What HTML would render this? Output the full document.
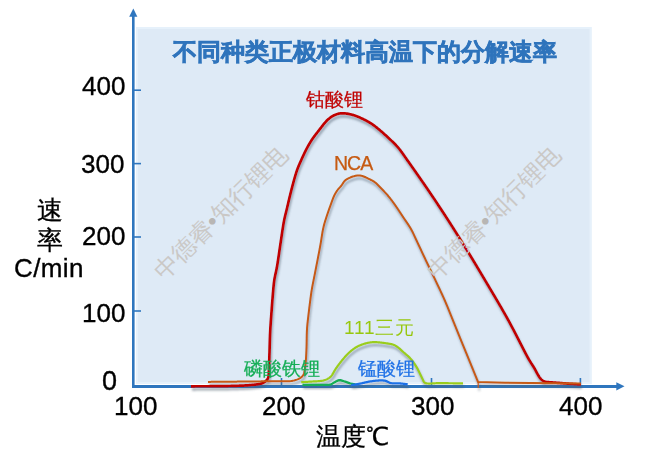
<!DOCTYPE html>
<html><head><meta charset="utf-8">
<style>
html,body{margin:0;padding:0;background:#fff;}
body{width:654px;height:466px;position:relative;overflow:hidden;font-family:"Liberation Sans",sans-serif;}
.t{position:absolute;white-space:nowrap;line-height:1;will-change:transform;}
.num{font-size:26px;color:#000;-webkit-text-stroke:0.35px #000;}
.wm{position:absolute;white-space:nowrap;line-height:1;font-size:24.2px;color:#cac8c6;transform-origin:50% 50%;transform:translate(-50%,-50%) rotate(-45deg);}
.wm b{font-weight:normal;color:#b8b6b4;}
</style></head><body>
<svg width="654" height="466" style="position:absolute;left:0;top:0">
<defs>
<filter id="sh" x="-10%" y="-10%" width="120%" height="130%">
<feGaussianBlur in="SourceAlpha" stdDeviation="1.3"/>
<feOffset dx="1.2" dy="2.6" result="b"/>
<feFlood flood-color="#4a5a6a" flood-opacity="0.5"/>
<feComposite in2="b" operator="in"/>
<feMerge><feMergeNode/><feMergeNode in="SourceGraphic"/></feMerge>
</filter>
</defs>
<rect x="136" y="27" width="455.5" height="357" fill="#DEEAF6"/>
<rect x="137" y="28" width="453.5" height="355" fill="none" stroke="#E6F1FB" stroke-width="2"/>
<g stroke="#2F76BE" fill="none">
<line x1="133.3" y1="388" x2="133.3" y2="16" stroke-width="2.6"/>
<line x1="132" y1="386.4" x2="617" y2="386.4" stroke-width="3"/>
<g stroke-width="1.6">
<line x1="133" y1="90.2" x2="141" y2="90.2"/>
<line x1="133" y1="163.6" x2="141" y2="163.6"/>
<line x1="133" y1="237" x2="141" y2="237"/>
<line x1="133" y1="311" x2="141" y2="311"/>
<line x1="281.5" y1="386" x2="281.5" y2="378"/>
<line x1="431.5" y1="386" x2="431.5" y2="378"/>
<line x1="580.4" y1="386" x2="580.4" y2="378"/>
</g>
</g>
<polygon points="133.3,8.6 129.2,16.8 137.4,16.8" fill="#2F76BE"/>
<polygon points="624.5,386.3 616.3,382.2 616.3,390.4" fill="#2F76BE"/>
</svg>
<svg width="654" height="466" style="position:absolute;left:0;top:0">
<g fill="none" stroke-linejoin="round" stroke-linecap="butt" filter="url(#sh)">
<path stroke="#9ACD1E" stroke-width="2.2" d="M301.20,382.20 L302.88,382.09 L303.26,382.07 L303.72,382.04 L304.24,382.01 L304.83,381.97 L305.47,381.93 L306.14,381.89 L306.82,381.85 L307.53,381.80 L308.23,381.76 L308.93,381.71 L309.64,381.67 L310.34,381.62 L311.04,381.57 L311.75,381.53 L312.45,381.49 L313.15,381.45 L313.86,381.41 L314.56,381.38 L315.26,381.35 L315.97,381.32 L316.67,381.29 L317.37,381.25 L318.08,381.21 L318.78,381.16 L319.48,381.10 L320.18,381.03 L320.88,380.94 L321.57,380.84 L322.26,380.71 L322.95,380.56 L323.63,380.39 L324.30,380.20 L324.97,379.98 L325.63,379.75 L326.28,379.49 L326.92,379.20 L327.55,378.89 L328.16,378.56 L328.75,378.19 L329.33,377.80 L329.87,377.37 L330.40,376.92 L330.89,376.43 L331.35,375.91 L331.78,375.37 L332.19,374.80 L332.57,374.21 L332.93,373.61 L333.28,373.00 L333.62,372.39 L333.96,371.77 L334.30,371.16 L334.65,370.55 L335.01,369.94 L335.38,369.34 L335.76,368.75 L336.15,368.17 L336.55,367.59 L336.96,367.01 L337.37,366.44 L337.78,365.87 L338.20,365.30 L338.62,364.74 L339.04,364.17 L339.47,363.62 L339.90,363.06 L340.33,362.50 L340.77,361.95 L341.21,361.40 L341.65,360.85 L342.10,360.31 L342.55,359.76 L343.00,359.22 L343.45,358.68 L343.90,358.14 L344.36,357.61 L344.82,357.07 L345.29,356.55 L345.76,356.02 L346.23,355.50 L346.71,354.98 L347.20,354.48 L347.69,353.97 L348.19,353.48 L348.70,352.99 L349.21,352.51 L349.74,352.04 L350.27,351.58 L350.81,351.13 L351.35,350.68 L351.90,350.24 L352.46,349.82 L353.03,349.39 L353.59,348.98 L354.17,348.57 L354.75,348.18 L355.34,347.79 L355.93,347.41 L356.53,347.05 L357.14,346.70 L357.76,346.36 L358.38,346.03 L359.01,345.72 L359.65,345.43 L360.30,345.16 L360.95,344.90 L361.61,344.65 L362.27,344.42 L362.94,344.20 L363.61,343.98 L364.29,343.78 L364.96,343.59 L365.64,343.40 L366.32,343.22 L367.01,343.05 L367.69,342.89 L368.38,342.74 L369.07,342.61 L369.76,342.49 L370.46,342.39 L371.16,342.30 L371.85,342.23 L372.56,342.18 L373.26,342.14 L373.96,342.12 L374.66,342.12 L375.37,342.13 L376.07,342.15 L376.77,342.19 L377.47,342.23 L378.18,342.28 L378.88,342.34 L379.58,342.41 L380.28,342.49 L380.98,342.57 L381.68,342.65 L382.38,342.74 L383.08,342.83 L383.77,342.93 L384.47,343.03 L385.17,343.13 L385.86,343.23 L386.56,343.33 L387.26,343.44 L387.95,343.55 L388.65,343.65 L389.34,343.77 L390.04,343.89 L390.73,344.03 L391.41,344.19 L392.09,344.36 L392.76,344.56 L393.42,344.78 L394.07,345.04 L394.71,345.32 L395.34,345.64 L395.95,345.98 L396.54,346.34 L397.12,346.74 L397.69,347.15 L398.25,347.57 L398.79,348.02 L399.33,348.47 L399.86,348.93 L400.38,349.40 L400.91,349.88 L401.42,350.35 L401.94,350.83 L402.46,351.30 L402.98,351.78 L403.51,352.25 L404.04,352.71 L404.57,353.18 L405.10,353.63 L405.64,354.09 L406.18,354.55 L406.71,355.00 L407.25,355.46 L407.77,355.93 L408.30,356.40 L408.81,356.88 L409.31,357.37 L409.81,357.87 L410.29,358.38 L410.76,358.90 L411.22,359.44 L411.67,359.97 L412.12,360.52 L412.55,361.08 L412.98,361.64 L413.39,362.20 L413.80,362.78 L414.21,363.35 L414.60,363.94 L414.99,364.52 L415.37,365.11 L415.75,365.71 L416.12,366.31 L416.48,366.91 L416.83,367.52 L417.18,368.14 L417.52,368.75 L417.85,369.38 L418.17,370.00 L418.49,370.63 L418.80,371.26 L419.11,371.89 L419.41,372.53 L419.72,373.16 L420.02,373.80 L420.32,374.44 L420.63,375.07 L420.93,375.71 L421.23,376.34 L421.54,376.98 L421.84,377.61 L422.16,378.25 L422.46,378.88 L422.76,379.52 L423.05,380.16 L423.33,380.80 L423.62,381.44 L423.97,382.05 L424.48,382.53 L425.06,382.92 L425.71,383.18 L426.40,383.34 L427.09,383.44 L427.79,383.50 L428.50,383.53 L429.20,383.54 L429.90,383.53 L430.61,383.52 L431.31,383.49 L432.02,383.45 L432.72,383.41 L433.42,383.38 L434.13,383.34 L434.83,383.30 L435.53,383.26 L436.24,383.22 L436.94,383.19 L437.64,383.16 L438.35,383.14 L439.05,383.13 L439.75,383.12 L440.46,383.12 L441.16,383.13 L441.87,383.13 L442.57,383.14 L443.28,383.15 L443.98,383.16 L444.69,383.17 L445.39,383.18 L446.09,383.19 L446.80,383.20 L447.50,383.21 L448.21,383.22 L448.91,383.23 L449.62,383.23 L450.32,383.24 L451.02,383.25 L451.73,383.26 L452.43,383.27 L453.14,383.28 L453.84,383.29 L454.55,383.30 L455.25,383.30 L455.96,383.31 L456.66,383.32 L457.36,383.33 L458.05,383.34 L458.72,383.35 L459.36,383.35 L459.95,383.36 L460.48,383.37 L460.93,383.37 L461.31,383.38 L463.00,383.40"/>
<path stroke="#14AD55" stroke-width="2.3" d="M302.50,384.80 L303.28,384.80 L303.93,384.80 L304.64,384.80 L305.35,384.80 L306.06,384.80 L306.77,384.81 L307.48,384.81 L308.19,384.81 L308.90,384.81 L309.62,384.81 L310.33,384.82 L311.04,384.82 L311.75,384.82 L312.46,384.82 L313.17,384.82 L313.89,384.82 L314.60,384.82 L315.31,384.82 L316.02,384.82 L316.73,384.82 L317.44,384.82 L318.15,384.81 L318.87,384.81 L319.58,384.81 L320.29,384.80 L321.00,384.81 L321.71,384.82 L322.42,384.84 L323.13,384.87 L323.85,384.89 L324.56,384.92 L325.27,384.94 L325.98,384.96 L326.69,384.96 L327.40,384.94 L328.11,384.91 L328.82,384.84 L329.52,384.73 L330.21,384.57 L330.88,384.35 L331.53,384.07 L332.16,383.75 L332.77,383.38 L333.37,383.00 L333.97,382.62 L334.58,382.25 L335.20,381.91 L335.83,381.57 L336.46,381.24 L337.09,380.92 L337.74,380.63 L338.40,380.40 L339.09,380.24 L339.79,380.19 L340.48,380.23 L341.18,380.37 L341.86,380.56 L342.53,380.79 L343.20,381.02 L343.88,381.25 L344.55,381.48 L345.22,381.71 L345.90,381.94 L346.57,382.18 L347.24,382.42 L347.91,382.66 L348.58,382.89 L349.26,383.11 L349.94,383.32 L350.62,383.51 L351.31,383.69 L352.00,383.84 L352.70,383.98 L353.40,384.11 L354.09,384.24 L354.73,384.36 L355.50,384.50"/>
<path stroke="#1E70E6" stroke-width="2.3" d="M351.30,385.10 L352.07,384.97 L352.71,384.86 L353.40,384.75 L354.10,384.63 L354.79,384.51 L355.49,384.40 L356.19,384.28 L356.89,384.16 L357.59,384.04 L358.29,383.92 L358.99,383.80 L359.68,383.67 L360.38,383.54 L361.07,383.40 L361.77,383.26 L362.46,383.11 L363.15,382.96 L363.85,382.80 L364.54,382.65 L365.23,382.49 L365.92,382.33 L366.61,382.18 L367.30,382.03 L368.00,381.88 L368.69,381.74 L369.39,381.61 L370.09,381.49 L370.78,381.38 L371.49,381.27 L372.19,381.17 L372.89,381.07 L373.59,380.98 L374.29,380.89 L375.00,380.81 L375.70,380.73 L376.41,380.66 L377.11,380.59 L377.82,380.53 L378.53,380.49 L379.23,380.45 L379.94,380.42 L380.65,380.41 L381.36,380.41 L382.07,380.43 L382.77,380.46 L383.48,380.52 L384.18,380.61 L384.88,380.72 L385.57,380.88 L386.24,381.10 L386.90,381.35 L387.54,381.66 L388.17,381.98 L388.80,382.30 L389.44,382.59 L390.10,382.84 L390.78,383.04 L391.47,383.19 L392.17,383.29 L392.87,383.36 L393.58,383.40 L394.28,383.43 L394.99,383.44 L395.70,383.44 L396.41,383.44 L397.12,383.44 L397.83,383.43 L398.54,383.43 L399.24,383.44 L399.95,383.46 L400.66,383.50 L401.37,383.55 L402.07,383.61 L402.78,383.69 L403.48,383.77 L404.19,383.85 L404.89,383.94 L405.59,384.03 L406.28,384.12 L406.93,384.20 L407.70,384.30"/>
<path stroke="#C00000" stroke-width="2.7" d="M191.00,386.30 L192.68,386.29 L193.06,386.29 L193.51,386.28 L194.04,386.28 L194.62,386.28 L195.26,386.27 L195.92,386.27 L196.61,386.27 L197.31,386.27 L198.01,386.26 L198.71,386.26 L199.41,386.26 L200.11,386.25 L200.81,386.25 L201.52,386.25 L202.22,386.25 L202.92,386.25 L203.62,386.24 L204.32,386.24 L205.02,386.24 L205.72,386.24 L206.42,386.24 L207.12,386.23 L207.82,386.23 L208.53,386.23 L209.23,386.23 L209.93,386.22 L210.63,386.22 L211.33,386.22 L212.03,386.22 L212.73,386.21 L213.43,386.21 L214.13,386.21 L214.84,386.20 L215.54,386.20 L216.24,386.19 L216.94,386.19 L217.64,386.18 L218.34,386.18 L219.04,386.17 L219.74,386.17 L220.44,386.16 L221.14,386.15 L221.85,386.14 L222.55,386.13 L223.25,386.13 L223.95,386.12 L224.65,386.11 L225.35,386.09 L226.05,386.08 L226.75,386.07 L227.45,386.06 L228.15,386.04 L228.85,386.02 L229.56,386.01 L230.26,385.99 L230.96,385.97 L231.66,385.96 L232.36,385.94 L233.06,385.92 L233.76,385.90 L234.46,385.88 L235.16,385.86 L235.86,385.84 L236.56,385.82 L237.26,385.80 L237.96,385.77 L238.66,385.75 L239.37,385.72 L240.07,385.70 L240.77,385.67 L241.47,385.64 L242.17,385.61 L242.87,385.58 L243.57,385.54 L244.27,385.50 L244.97,385.46 L245.67,385.42 L246.37,385.38 L247.07,385.33 L247.77,385.28 L248.46,385.22 L249.16,385.17 L249.86,385.11 L250.56,385.05 L251.26,384.99 L251.96,384.93 L252.65,384.86 L253.35,384.80 L254.05,384.73 L254.75,384.66 L255.44,384.59 L256.14,384.51 L256.84,384.42 L257.53,384.32 L258.22,384.21 L258.91,384.09 L259.60,383.96 L260.28,383.80 L260.95,383.62 L261.62,383.41 L262.27,383.17 L262.92,382.89 L263.54,382.58 L264.15,382.23 L264.74,381.86 L265.31,381.44 L265.85,381.00 L266.37,380.53 L266.84,380.01 L267.29,379.48 L267.66,378.88 L267.97,378.25 L268.22,377.60 L268.41,376.93 L268.54,376.25 L268.63,375.55 L268.69,374.86 L268.74,374.16 L268.77,373.46 L268.81,372.76 L268.84,372.06 L268.87,371.36 L268.90,370.66 L268.93,369.96 L268.96,369.26 L268.99,368.56 L269.02,367.86 L269.05,367.16 L269.08,366.46 L269.10,365.76 L269.13,365.06 L269.15,364.35 L269.18,363.65 L269.20,362.95 L269.22,362.25 L269.24,361.55 L269.26,360.85 L269.28,360.15 L269.30,359.45 L269.32,358.75 L269.34,358.05 L269.36,357.35 L269.38,356.65 L269.40,355.95 L269.42,355.25 L269.44,354.54 L269.46,353.84 L269.49,353.14 L269.51,352.44 L269.53,351.74 L269.55,351.04 L269.57,350.34 L269.59,349.64 L269.61,348.94 L269.63,348.24 L269.65,347.54 L269.67,346.84 L269.69,346.14 L269.71,345.44 L269.73,344.73 L269.75,344.03 L269.77,343.33 L269.79,342.63 L269.81,341.93 L269.83,341.23 L269.86,340.53 L269.88,339.83 L269.90,339.13 L269.92,338.43 L269.95,337.73 L269.97,337.03 L270.00,336.33 L270.02,335.63 L270.05,334.93 L270.08,334.22 L270.11,333.52 L270.14,332.82 L270.18,332.12 L270.21,331.42 L270.25,330.72 L270.28,330.02 L270.32,329.32 L270.36,328.62 L270.40,327.92 L270.44,327.22 L270.49,326.52 L270.53,325.82 L270.58,325.13 L270.62,324.43 L270.67,323.73 L270.72,323.03 L270.76,322.33 L270.81,321.63 L270.86,320.93 L270.91,320.23 L270.96,319.53 L271.01,318.83 L271.06,318.13 L271.12,317.43 L271.17,316.73 L271.22,316.03 L271.27,315.34 L271.32,314.64 L271.37,313.94 L271.42,313.24 L271.47,312.54 L271.53,311.84 L271.58,311.14 L271.63,310.44 L271.68,309.74 L271.73,309.04 L271.78,308.34 L271.83,307.64 L271.88,306.95 L271.94,306.25 L271.99,305.55 L272.04,304.85 L272.09,304.15 L272.15,303.45 L272.20,302.75 L272.25,302.05 L272.31,301.35 L272.36,300.65 L272.42,299.96 L272.47,299.26 L272.53,298.56 L272.58,297.86 L272.64,297.16 L272.70,296.46 L272.76,295.76 L272.81,295.06 L272.87,294.37 L272.93,293.67 L272.99,292.97 L273.05,292.27 L273.11,291.57 L273.17,290.87 L273.23,290.17 L273.29,289.48 L273.35,288.78 L273.41,288.08 L273.47,287.38 L273.54,286.68 L273.60,285.98 L273.67,285.29 L273.74,284.59 L273.82,283.89 L273.90,283.20 L273.98,282.50 L274.07,281.81 L274.16,281.11 L274.27,280.42 L274.37,279.73 L274.49,279.03 L274.61,278.34 L274.74,277.65 L274.87,276.97 L275.01,276.28 L275.15,275.59 L275.30,274.91 L275.45,274.22 L275.60,273.54 L275.75,272.85 L275.90,272.17 L276.05,271.48 L276.19,270.80 L276.34,270.11 L276.48,269.43 L276.61,268.74 L276.74,268.05 L276.87,267.36 L277.00,266.67 L277.12,265.98 L277.24,265.29 L277.35,264.60 L277.47,263.91 L277.58,263.21 L277.69,262.52 L277.80,261.83 L277.90,261.14 L278.01,260.44 L278.12,259.75 L278.22,259.06 L278.32,258.36 L278.43,257.67 L278.53,256.98 L278.63,256.28 L278.73,255.59 L278.83,254.90 L278.94,254.20 L279.04,253.51 L279.14,252.81 L279.24,252.12 L279.34,251.43 L279.44,250.73 L279.54,250.04 L279.64,249.35 L279.74,248.65 L279.84,247.96 L279.94,247.26 L280.04,246.57 L280.14,245.88 L280.25,245.18 L280.35,244.49 L280.45,243.80 L280.56,243.10 L280.66,242.41 L280.77,241.72 L280.87,241.02 L280.98,240.33 L281.08,239.64 L281.19,238.94 L281.29,238.25 L281.39,237.56 L281.50,236.86 L281.60,236.17 L281.70,235.48 L281.81,234.78 L281.91,234.09 L282.01,233.40 L282.12,232.70 L282.22,232.01 L282.32,231.32 L282.43,230.62 L282.53,229.93 L282.64,229.24 L282.75,228.55 L282.85,227.85 L282.96,227.16 L283.07,226.47 L283.19,225.78 L283.30,225.08 L283.41,224.39 L283.53,223.70 L283.65,223.01 L283.78,222.32 L283.90,221.63 L284.03,220.94 L284.17,220.26 L284.31,219.57 L284.45,218.88 L284.60,218.20 L284.75,217.51 L284.91,216.83 L285.07,216.15 L285.23,215.47 L285.40,214.79 L285.57,214.11 L285.74,213.43 L285.91,212.75 L286.08,212.07 L286.25,211.39 L286.42,210.70 L286.59,210.02 L286.75,209.34 L286.91,208.66 L287.08,207.98 L287.24,207.30 L287.40,206.61 L287.56,205.93 L287.72,205.25 L287.88,204.57 L288.04,203.88 L288.19,203.20 L288.35,202.52 L288.51,201.84 L288.67,201.15 L288.83,200.47 L288.99,199.79 L289.16,199.11 L289.32,198.42 L289.48,197.74 L289.64,197.06 L289.81,196.38 L289.97,195.70 L290.14,195.02 L290.31,194.34 L290.47,193.65 L290.64,192.97 L290.82,192.29 L290.99,191.62 L291.16,190.94 L291.34,190.26 L291.51,189.58 L291.69,188.90 L291.87,188.22 L292.05,187.54 L292.22,186.87 L292.40,186.19 L292.58,185.51 L292.76,184.83 L292.94,184.16 L293.12,183.48 L293.30,182.80 L293.49,182.12 L293.67,181.45 L293.85,180.77 L294.04,180.10 L294.23,179.42 L294.42,178.75 L294.61,178.07 L294.80,177.40 L295.00,176.72 L295.19,176.05 L295.39,175.38 L295.59,174.71 L295.80,174.04 L296.01,173.37 L296.22,172.70 L296.44,172.03 L296.66,171.37 L296.88,170.70 L297.11,170.04 L297.35,169.38 L297.59,168.72 L297.84,168.07 L298.09,167.42 L298.35,166.76 L298.62,166.12 L298.89,165.47 L299.16,164.82 L299.44,164.18 L299.72,163.54 L300.00,162.90 L300.29,162.26 L300.57,161.62 L300.86,160.98 L301.15,160.34 L301.43,159.70 L301.72,159.06 L302.01,158.42 L302.30,157.78 L302.59,157.14 L302.88,156.50 L303.17,155.87 L303.46,155.23 L303.76,154.59 L304.06,153.96 L304.36,153.33 L304.67,152.70 L304.97,152.07 L305.29,151.44 L305.60,150.81 L305.92,150.19 L306.24,149.56 L306.56,148.94 L306.89,148.32 L307.22,147.70 L307.55,147.09 L307.88,146.47 L308.22,145.86 L308.56,145.24 L308.91,144.63 L309.26,144.03 L309.61,143.42 L309.97,142.82 L310.33,142.22 L310.70,141.62 L311.07,141.03 L311.45,140.44 L311.83,139.85 L312.22,139.27 L312.62,138.69 L313.02,138.11 L313.42,137.54 L313.83,136.97 L314.25,136.41 L314.67,135.85 L315.09,135.29 L315.51,134.73 L315.94,134.17 L316.37,133.62 L316.80,133.06 L317.23,132.51 L317.66,131.96 L318.09,131.41 L318.52,130.85 L318.96,130.30 L319.39,129.75 L319.82,129.20 L320.24,128.64 L320.67,128.09 L321.10,127.53 L321.53,126.97 L321.96,126.42 L322.39,125.87 L322.82,125.31 L323.25,124.76 L323.69,124.22 L324.13,123.67 L324.58,123.13 L325.04,122.60 L325.50,122.08 L325.97,121.56 L326.45,121.05 L326.94,120.55 L327.44,120.06 L327.95,119.58 L328.47,119.11 L329.00,118.66 L329.54,118.22 L330.10,117.79 L330.66,117.37 L331.23,116.97 L331.82,116.59 L332.41,116.22 L333.01,115.87 L333.63,115.54 L334.25,115.22 L334.88,114.93 L335.53,114.66 L336.18,114.41 L336.84,114.19 L337.51,113.98 L338.18,113.81 L338.86,113.66 L339.55,113.53 L340.24,113.43 L340.93,113.36 L341.62,113.31 L342.32,113.28 L343.02,113.28 L343.72,113.30 L344.42,113.35 L345.11,113.41 L345.81,113.49 L346.50,113.58 L347.19,113.69 L347.88,113.81 L348.57,113.94 L349.26,114.08 L349.94,114.22 L350.62,114.38 L351.30,114.55 L351.98,114.73 L352.65,114.92 L353.33,115.12 L353.99,115.33 L354.66,115.55 L355.32,115.78 L355.98,116.01 L356.64,116.26 L357.29,116.51 L357.94,116.77 L358.59,117.04 L359.24,117.31 L359.88,117.59 L360.52,117.87 L361.16,118.16 L361.79,118.45 L362.43,118.75 L363.06,119.06 L363.69,119.37 L364.31,119.68 L364.94,120.00 L365.56,120.32 L366.18,120.65 L366.80,120.98 L367.41,121.32 L368.02,121.66 L368.63,122.01 L369.23,122.37 L369.84,122.73 L370.43,123.10 L371.02,123.47 L371.61,123.85 L372.19,124.24 L372.77,124.64 L373.34,125.04 L373.91,125.45 L374.48,125.87 L375.03,126.29 L375.59,126.72 L376.14,127.15 L376.69,127.59 L377.23,128.03 L377.78,128.47 L378.32,128.92 L378.86,129.37 L379.39,129.82 L379.93,130.27 L380.46,130.72 L381.00,131.18 L381.53,131.64 L382.06,132.09 L382.59,132.56 L383.11,133.02 L383.64,133.48 L384.16,133.95 L384.68,134.42 L385.20,134.89 L385.72,135.36 L386.23,135.84 L386.75,136.31 L387.26,136.79 L387.77,137.27 L388.28,137.75 L388.80,138.23 L389.31,138.71 L389.82,139.19 L390.33,139.67 L390.83,140.15 L391.34,140.64 L391.85,141.12 L392.36,141.60 L392.87,142.09 L393.37,142.58 L393.87,143.07 L394.37,143.56 L394.86,144.06 L395.35,144.56 L395.84,145.06 L396.32,145.57 L396.79,146.09 L397.26,146.61 L397.72,147.13 L398.18,147.67 L398.63,148.20 L399.08,148.74 L399.51,149.29 L399.95,149.84 L400.37,150.40 L400.80,150.96 L401.21,151.52 L401.63,152.09 L402.04,152.65 L402.45,153.22 L402.85,153.79 L403.26,154.37 L403.66,154.94 L404.06,155.52 L404.46,156.09 L404.86,156.67 L405.26,157.24 L405.67,157.82 L406.07,158.39 L406.47,158.96 L406.88,159.54 L407.28,160.11 L407.68,160.68 L408.09,161.25 L408.50,161.83 L408.90,162.40 L409.31,162.97 L409.71,163.54 L410.12,164.11 L410.52,164.69 L410.92,165.26 L411.33,165.83 L411.73,166.41 L412.14,166.98 L412.54,167.55 L412.94,168.12 L413.35,168.70 L413.75,169.27 L414.15,169.85 L414.55,170.42 L414.96,170.99 L415.36,171.57 L415.76,172.14 L416.16,172.72 L416.57,173.29 L416.97,173.86 L417.37,174.44 L417.77,175.01 L418.17,175.59 L418.57,176.16 L418.97,176.74 L419.37,177.31 L419.77,177.89 L420.17,178.47 L420.57,179.04 L420.97,179.62 L421.37,180.19 L421.77,180.77 L422.17,181.35 L422.57,181.92 L422.97,182.50 L423.37,183.08 L423.77,183.65 L424.17,184.23 L424.56,184.81 L424.96,185.38 L425.36,185.96 L425.76,186.54 L426.15,187.12 L426.55,187.69 L426.95,188.27 L427.34,188.85 L427.74,189.43 L428.13,190.01 L428.53,190.59 L428.93,191.17 L429.32,191.74 L429.72,192.32 L430.11,192.90 L430.50,193.48 L430.90,194.06 L431.29,194.64 L431.68,195.22 L432.08,195.80 L432.47,196.39 L432.86,196.97 L433.25,197.55 L433.64,198.13 L434.03,198.71 L434.43,199.29 L434.82,199.88 L435.20,200.46 L435.59,201.04 L435.98,201.63 L436.37,202.21 L436.76,202.79 L437.15,203.38 L437.54,203.96 L437.92,204.55 L438.31,205.13 L438.70,205.71 L439.08,206.30 L439.47,206.88 L439.85,207.47 L440.24,208.06 L440.63,208.64 L441.01,209.23 L441.40,209.81 L441.78,210.40 L442.16,210.99 L442.55,211.57 L442.93,212.16 L443.31,212.75 L443.70,213.33 L444.08,213.92 L444.46,214.51 L444.84,215.10 L445.23,215.68 L445.61,216.27 L445.99,216.86 L446.37,217.45 L446.75,218.04 L447.13,218.63 L447.51,219.22 L447.89,219.80 L448.27,220.39 L448.65,220.98 L449.03,221.57 L449.41,222.16 L449.79,222.75 L450.16,223.34 L450.54,223.93 L450.92,224.52 L451.30,225.12 L451.67,225.71 L452.05,226.30 L452.43,226.89 L452.81,227.48 L453.18,228.07 L453.56,228.66 L453.93,229.25 L454.31,229.85 L454.68,230.44 L455.06,231.03 L455.43,231.62 L455.81,232.22 L456.18,232.81 L456.56,233.40 L456.93,233.99 L457.30,234.59 L457.68,235.18 L458.05,235.77 L458.42,236.37 L458.80,236.96 L459.17,237.56 L459.54,238.15 L459.91,238.74 L460.28,239.34 L460.66,239.93 L461.03,240.53 L461.40,241.12 L461.77,241.72 L462.14,242.31 L462.51,242.91 L462.88,243.50 L463.25,244.10 L463.62,244.70 L463.99,245.29 L464.35,245.89 L464.72,246.49 L465.09,247.08 L465.46,247.68 L465.82,248.28 L466.19,248.87 L466.56,249.47 L466.92,250.07 L467.29,250.67 L467.65,251.27 L468.02,251.86 L468.39,252.46 L468.75,253.06 L469.11,253.66 L469.48,254.26 L469.84,254.86 L470.21,255.46 L470.57,256.06 L470.93,256.66 L471.30,257.26 L471.66,257.86 L472.02,258.46 L472.38,259.06 L472.75,259.66 L473.11,260.26 L473.47,260.86 L473.83,261.46 L474.19,262.06 L474.55,262.66 L474.92,263.26 L475.28,263.86 L475.64,264.46 L476.00,265.06 L476.36,265.66 L476.72,266.27 L477.08,266.87 L477.44,267.47 L477.80,268.07 L478.16,268.67 L478.52,269.27 L478.88,269.88 L479.24,270.48 L479.59,271.08 L479.95,271.68 L480.31,272.29 L480.67,272.89 L481.03,273.49 L481.39,274.09 L481.75,274.69 L482.11,275.30 L482.46,275.90 L482.82,276.50 L483.18,277.10 L483.54,277.71 L483.90,278.31 L484.25,278.91 L484.61,279.52 L484.97,280.12 L485.33,280.72 L485.69,281.32 L486.04,281.93 L486.40,282.53 L486.76,283.13 L487.12,283.73 L487.48,284.34 L487.84,284.94 L488.19,285.54 L488.55,286.14 L488.91,286.75 L489.27,287.35 L489.63,287.95 L489.98,288.56 L490.34,289.16 L490.70,289.76 L491.06,290.36 L491.42,290.97 L491.77,291.57 L492.13,292.17 L492.49,292.78 L492.85,293.38 L493.20,293.98 L493.56,294.59 L493.92,295.19 L494.27,295.79 L494.63,296.40 L494.99,297.00 L495.34,297.60 L495.70,298.21 L496.05,298.81 L496.41,299.42 L496.76,300.02 L497.12,300.63 L497.47,301.23 L497.83,301.84 L498.18,302.44 L498.53,303.05 L498.89,303.65 L499.24,304.26 L499.59,304.86 L499.94,305.47 L500.30,306.08 L500.65,306.68 L501.00,307.29 L501.35,307.90 L501.70,308.50 L502.05,309.11 L502.40,309.72 L502.75,310.33 L503.09,310.94 L503.44,311.55 L503.79,312.15 L504.14,312.76 L504.48,313.37 L504.83,313.98 L505.17,314.59 L505.52,315.20 L505.86,315.81 L506.20,316.43 L506.55,317.04 L506.89,317.65 L507.23,318.26 L507.57,318.87 L507.91,319.49 L508.25,320.10 L508.59,320.72 L508.93,321.33 L509.26,321.95 L509.60,322.56 L509.93,323.18 L510.26,323.79 L510.59,324.41 L510.92,325.03 L511.25,325.65 L511.58,326.27 L511.91,326.89 L512.24,327.51 L512.57,328.13 L512.89,328.75 L513.22,329.37 L513.54,329.99 L513.86,330.61 L514.19,331.23 L514.51,331.86 L514.83,332.48 L515.16,333.10 L515.48,333.72 L515.80,334.35 L516.12,334.97 L516.44,335.59 L516.76,336.22 L517.08,336.84 L517.40,337.47 L517.72,338.09 L518.04,338.71 L518.36,339.34 L518.68,339.96 L519.00,340.59 L519.32,341.21 L519.64,341.83 L519.96,342.46 L520.27,343.08 L520.59,343.71 L520.91,344.33 L521.23,344.95 L521.55,345.58 L521.87,346.20 L522.19,346.83 L522.51,347.45 L522.83,348.07 L523.15,348.70 L523.48,349.32 L523.80,349.94 L524.12,350.56 L524.44,351.19 L524.77,351.81 L525.09,352.43 L525.42,353.05 L525.75,353.67 L526.07,354.29 L526.40,354.91 L526.73,355.53 L527.07,356.14 L527.40,356.76 L527.74,357.37 L528.08,357.99 L528.42,358.60 L528.77,359.21 L529.12,359.81 L529.47,360.42 L529.83,361.02 L530.20,361.62 L530.57,362.21 L530.95,362.80 L531.32,363.39 L531.71,363.98 L532.09,364.57 L532.47,365.16 L532.85,365.74 L533.23,366.33 L533.60,366.93 L533.96,367.53 L534.32,368.13 L534.66,368.74 L535.00,369.36 L535.33,369.97 L535.66,370.59 L535.98,371.22 L536.31,371.84 L536.63,372.46 L536.96,373.07 L537.30,373.69 L537.64,374.30 L537.99,374.91 L538.35,375.51 L538.71,376.11 L539.09,376.69 L539.49,377.27 L539.90,377.83 L540.34,378.37 L540.79,378.90 L541.27,379.39 L541.78,379.86 L542.32,380.28 L542.88,380.66 L543.48,381.00 L544.10,381.28 L544.74,381.52 L545.40,381.72 L546.07,381.87 L546.75,381.99 L547.44,382.09 L548.14,382.16 L548.84,382.22 L549.53,382.28 L550.23,382.32 L550.93,382.37 L551.63,382.42 L552.33,382.46 L553.03,382.51 L553.73,382.56 L554.43,382.61 L555.13,382.66 L555.83,382.70 L556.53,382.75 L557.23,382.80 L557.93,382.85 L558.62,382.90 L559.32,382.95 L560.02,383.01 L560.72,383.06 L561.42,383.11 L562.12,383.17 L562.82,383.23 L563.52,383.28 L564.22,383.34 L564.91,383.40 L565.61,383.45 L566.31,383.51 L567.01,383.57 L567.71,383.62 L568.41,383.68 L569.11,383.73 L569.81,383.78 L570.51,383.83 L571.21,383.88 L571.90,383.93 L572.60,383.97 L573.30,384.02 L574.00,384.07 L574.70,384.11 L575.40,384.15 L576.09,384.20 L576.75,384.24 L577.38,384.28 L577.97,384.31 L578.49,384.34 L578.94,384.37 L579.32,384.40 L581.00,384.50"/>
<path stroke="#C65A12" stroke-width="2.0" d="M208.00,381.90 L209.68,381.88 L210.06,381.88 L210.51,381.88 L211.04,381.87 L211.62,381.87 L212.25,381.86 L212.92,381.85 L213.61,381.85 L214.31,381.84 L215.01,381.83 L215.71,381.83 L216.41,381.82 L217.11,381.82 L217.81,381.81 L218.51,381.80 L219.21,381.80 L219.91,381.79 L220.62,381.78 L221.32,381.78 L222.02,381.77 L222.72,381.76 L223.42,381.76 L224.12,381.75 L224.82,381.74 L225.52,381.74 L226.22,381.73 L226.92,381.72 L227.62,381.72 L228.32,381.71 L229.03,381.70 L229.73,381.70 L230.43,381.69 L231.13,381.68 L231.83,381.68 L232.53,381.67 L233.23,381.66 L233.93,381.66 L234.63,381.65 L235.33,381.64 L236.03,381.64 L236.74,381.63 L237.44,381.62 L238.14,381.62 L238.84,381.61 L239.54,381.60 L240.24,381.60 L240.94,381.59 L241.64,381.58 L242.34,381.58 L243.04,381.57 L243.74,381.56 L244.44,381.55 L245.15,381.55 L245.85,381.54 L246.55,381.53 L247.25,381.52 L247.95,381.52 L248.65,381.51 L249.35,381.50 L250.05,381.49 L250.75,381.48 L251.45,381.48 L252.15,381.47 L252.85,381.46 L253.56,381.45 L254.26,381.45 L254.96,381.44 L255.66,381.43 L256.36,381.42 L257.06,381.41 L257.76,381.41 L258.46,381.40 L259.16,381.39 L259.86,381.38 L260.56,381.38 L261.26,381.37 L261.97,381.36 L262.67,381.36 L263.37,381.35 L264.07,381.34 L264.77,381.34 L265.47,381.33 L266.17,381.33 L266.87,381.32 L267.57,381.32 L268.27,381.31 L268.97,381.31 L269.67,381.30 L270.38,381.30 L271.08,381.30 L271.78,381.29 L272.48,381.29 L273.18,381.29 L273.88,381.29 L274.58,381.29 L275.28,381.29 L275.98,381.29 L276.68,381.29 L277.38,381.29 L278.09,381.29 L278.79,381.29 L279.49,381.29 L280.19,381.29 L280.89,381.30 L281.59,381.30 L282.29,381.30 L282.99,381.31 L283.69,381.31 L284.39,381.32 L285.09,381.33 L285.79,381.34 L286.49,381.35 L287.19,381.35 L287.89,381.34 L288.59,381.31 L289.29,381.27 L289.99,381.21 L290.68,381.13 L291.37,381.02 L292.06,380.91 L292.75,380.77 L293.43,380.62 L294.11,380.46 L294.79,380.28 L295.46,380.08 L296.12,379.87 L296.78,379.64 L297.43,379.39 L298.07,379.11 L298.69,378.81 L299.30,378.49 L299.91,378.15 L300.51,377.78 L301.07,377.37 L301.60,376.92 L302.10,376.44 L302.57,375.93 L302.99,375.36 L303.35,374.75 L303.66,374.13 L303.89,373.47 L304.09,372.79 L304.26,372.12 L304.41,371.43 L304.54,370.74 L304.66,370.05 L304.77,369.36 L304.87,368.67 L304.97,367.98 L305.07,367.28 L305.16,366.59 L305.25,365.89 L305.34,365.20 L305.42,364.50 L305.50,363.80 L305.58,363.11 L305.65,362.41 L305.72,361.71 L305.79,361.02 L305.85,360.32 L305.91,359.62 L305.96,358.92 L306.01,358.22 L306.05,357.52 L306.10,356.82 L306.14,356.12 L306.18,355.42 L306.21,354.72 L306.25,354.02 L306.28,353.32 L306.31,352.62 L306.34,351.92 L306.38,351.22 L306.41,350.52 L306.44,349.82 L306.46,349.12 L306.49,348.42 L306.52,347.72 L306.54,347.02 L306.57,346.32 L306.59,345.62 L306.61,344.92 L306.62,344.22 L306.64,343.52 L306.65,342.82 L306.66,342.12 L306.67,341.41 L306.68,340.71 L306.69,340.01 L306.70,339.31 L306.71,338.61 L306.72,337.91 L306.73,337.21 L306.75,336.51 L306.76,335.81 L306.77,335.11 L306.79,334.41 L306.81,333.71 L306.83,333.01 L306.85,332.31 L306.88,331.61 L306.91,330.91 L306.95,330.21 L306.99,329.51 L307.03,328.81 L307.08,328.11 L307.13,327.41 L307.19,326.71 L307.24,326.01 L307.31,325.31 L307.37,324.62 L307.44,323.92 L307.51,323.22 L307.59,322.52 L307.67,321.83 L307.74,321.13 L307.82,320.43 L307.90,319.74 L307.99,319.04 L308.07,318.35 L308.15,317.65 L308.23,316.95 L308.31,316.26 L308.39,315.56 L308.47,314.87 L308.55,314.17 L308.63,313.47 L308.72,312.78 L308.80,312.08 L308.88,311.38 L308.96,310.69 L309.05,309.99 L309.13,309.30 L309.22,308.60 L309.30,307.91 L309.39,307.21 L309.47,306.51 L309.56,305.82 L309.65,305.12 L309.73,304.43 L309.82,303.73 L309.91,303.04 L310.00,302.34 L310.09,301.65 L310.18,300.95 L310.27,300.26 L310.36,299.56 L310.45,298.87 L310.54,298.17 L310.63,297.48 L310.72,296.78 L310.81,296.09 L310.90,295.39 L311.00,294.70 L311.10,294.00 L311.20,293.31 L311.30,292.62 L311.40,291.92 L311.51,291.23 L311.62,290.54 L311.74,289.85 L311.86,289.16 L311.98,288.47 L312.10,287.78 L312.22,287.09 L312.35,286.40 L312.48,285.71 L312.61,285.02 L312.75,284.33 L312.88,283.64 L313.02,282.96 L313.15,282.27 L313.29,281.58 L313.43,280.89 L313.56,280.21 L313.70,279.52 L313.84,278.83 L313.98,278.15 L314.12,277.46 L314.25,276.77 L314.39,276.08 L314.53,275.40 L314.67,274.71 L314.80,274.02 L314.94,273.33 L315.07,272.65 L315.21,271.96 L315.34,271.27 L315.47,270.58 L315.61,269.90 L315.74,269.21 L315.88,268.52 L316.01,267.83 L316.15,267.14 L316.28,266.46 L316.41,265.77 L316.55,265.08 L316.68,264.39 L316.82,263.70 L316.95,263.02 L317.09,262.33 L317.22,261.64 L317.36,260.95 L317.49,260.26 L317.62,259.58 L317.76,258.89 L317.89,258.20 L318.02,257.51 L318.16,256.82 L318.29,256.14 L318.42,255.45 L318.56,254.76 L318.69,254.07 L318.82,253.38 L318.95,252.70 L319.09,252.01 L319.22,251.32 L319.35,250.63 L319.48,249.94 L319.61,249.25 L319.74,248.56 L319.87,247.87 L319.99,247.19 L320.12,246.50 L320.25,245.81 L320.37,245.12 L320.49,244.43 L320.61,243.74 L320.73,243.05 L320.85,242.35 L320.96,241.66 L321.07,240.97 L321.18,240.28 L321.29,239.59 L321.40,238.89 L321.51,238.20 L321.61,237.51 L321.72,236.82 L321.83,236.12 L321.94,235.43 L322.05,234.74 L322.16,234.05 L322.27,233.36 L322.39,232.66 L322.51,231.97 L322.63,231.28 L322.76,230.60 L322.90,229.91 L323.04,229.22 L323.18,228.54 L323.33,227.85 L323.49,227.17 L323.65,226.49 L323.82,225.81 L324.00,225.13 L324.18,224.45 L324.36,223.78 L324.55,223.10 L324.75,222.43 L324.95,221.76 L325.15,221.09 L325.36,220.42 L325.57,219.75 L325.79,219.08 L326.00,218.41 L326.22,217.75 L326.44,217.08 L326.66,216.42 L326.88,215.75 L327.10,215.09 L327.32,214.42 L327.55,213.76 L327.77,213.09 L328.00,212.43 L328.22,211.77 L328.45,211.10 L328.68,210.44 L328.91,209.78 L329.14,209.12 L329.38,208.46 L329.61,207.80 L329.85,207.14 L330.09,206.48 L330.33,205.82 L330.57,205.16 L330.81,204.50 L331.05,203.85 L331.29,203.19 L331.52,202.53 L331.76,201.87 L332.00,201.21 L332.23,200.55 L332.47,199.89 L332.71,199.23 L332.96,198.58 L333.21,197.92 L333.48,197.27 L333.75,196.63 L334.04,195.99 L334.34,195.36 L334.65,194.74 L334.98,194.12 L335.32,193.50 L335.67,192.90 L336.03,192.30 L336.40,191.71 L336.79,191.13 L337.19,190.55 L337.61,189.99 L338.04,189.44 L338.48,188.90 L338.93,188.37 L339.39,187.84 L339.86,187.32 L340.33,186.80 L340.79,186.28 L341.24,185.74 L341.67,185.20 L342.08,184.64 L342.46,184.06 L342.83,183.48 L343.20,182.89 L343.57,182.31 L343.96,181.75 L344.38,181.21 L344.84,180.72 L345.34,180.26 L345.88,179.84 L346.44,179.45 L347.04,179.09 L347.65,178.76 L348.27,178.44 L348.90,178.13 L349.53,177.84 L350.17,177.56 L350.82,177.29 L351.47,177.03 L352.12,176.79 L352.79,176.57 L353.45,176.36 L354.13,176.16 L354.80,175.99 L355.48,175.84 L356.17,175.70 L356.85,175.60 L357.54,175.53 L358.24,175.49 L358.93,175.49 L359.62,175.52 L360.31,175.60 L360.99,175.71 L361.67,175.85 L362.34,176.03 L363.01,176.24 L363.66,176.47 L364.31,176.72 L364.96,176.99 L365.60,177.28 L366.23,177.58 L366.86,177.89 L367.48,178.20 L368.11,178.52 L368.73,178.83 L369.36,179.14 L369.99,179.45 L370.62,179.76 L371.25,180.07 L371.87,180.38 L372.49,180.71 L373.09,181.06 L373.69,181.42 L374.27,181.81 L374.83,182.22 L375.37,182.65 L375.90,183.11 L376.42,183.58 L376.92,184.06 L377.42,184.55 L377.91,185.05 L378.40,185.55 L378.89,186.06 L379.38,186.56 L379.87,187.06 L380.36,187.56 L380.85,188.06 L381.34,188.56 L381.84,189.05 L382.33,189.55 L382.82,190.05 L383.31,190.56 L383.79,191.06 L384.28,191.57 L384.76,192.08 L385.24,192.59 L385.72,193.10 L386.19,193.62 L386.65,194.14 L387.12,194.67 L387.58,195.20 L388.03,195.73 L388.48,196.27 L388.92,196.81 L389.37,197.35 L389.80,197.90 L390.24,198.45 L390.66,199.01 L391.09,199.56 L391.51,200.12 L391.93,200.68 L392.35,201.25 L392.77,201.81 L393.18,202.38 L393.59,202.94 L394.00,203.51 L394.41,204.08 L394.82,204.65 L395.22,205.22 L395.63,205.80 L396.03,206.37 L396.43,206.95 L396.82,207.53 L397.22,208.10 L397.61,208.69 L398.00,209.27 L398.39,209.85 L398.77,210.44 L399.16,211.02 L399.54,211.61 L399.93,212.19 L400.31,212.78 L400.69,213.37 L401.08,213.96 L401.46,214.54 L401.84,215.13 L402.23,215.71 L402.61,216.30 L403.00,216.88 L403.39,217.47 L403.78,218.05 L404.18,218.63 L404.57,219.21 L404.97,219.79 L405.36,220.36 L405.76,220.94 L406.16,221.52 L406.56,222.09 L406.95,222.67 L407.35,223.25 L407.74,223.83 L408.13,224.41 L408.52,225.00 L408.90,225.59 L409.28,226.18 L409.65,226.77 L410.02,227.37 L410.38,227.97 L410.73,228.57 L411.07,229.18 L411.41,229.79 L411.74,230.41 L412.07,231.03 L412.39,231.66 L412.70,232.28 L413.01,232.91 L413.31,233.55 L413.61,234.18 L413.91,234.81 L414.20,235.45 L414.49,236.09 L414.79,236.72 L415.08,237.36 L415.37,238.00 L415.67,238.63 L415.96,239.27 L416.26,239.90 L416.56,240.54 L416.86,241.17 L417.15,241.81 L417.45,242.44 L417.75,243.07 L418.05,243.71 L418.35,244.34 L418.65,244.98 L418.94,245.61 L419.24,246.25 L419.54,246.88 L419.84,247.51 L420.13,248.15 L420.43,248.78 L420.73,249.42 L421.03,250.05 L421.32,250.69 L421.62,251.32 L421.92,251.96 L422.21,252.59 L422.51,253.23 L422.81,253.86 L423.11,254.50 L423.40,255.13 L423.70,255.77 L424.00,256.40 L424.30,257.03 L424.60,257.67 L424.90,258.30 L425.20,258.94 L425.50,259.57 L425.80,260.20 L426.10,260.83 L426.40,261.47 L426.70,262.10 L427.01,262.73 L427.31,263.36 L427.61,264.00 L427.92,264.63 L428.22,265.26 L428.52,265.89 L428.83,266.52 L429.13,267.15 L429.44,267.78 L429.74,268.42 L430.05,269.05 L430.35,269.68 L430.66,270.31 L430.96,270.94 L431.26,271.57 L431.57,272.20 L431.87,272.83 L432.18,273.47 L432.48,274.10 L432.78,274.73 L433.09,275.36 L433.39,275.99 L433.69,276.63 L434.00,277.26 L434.30,277.89 L434.60,278.52 L434.90,279.16 L435.20,279.79 L435.50,280.42 L435.80,281.06 L436.10,281.69 L436.40,282.32 L436.70,282.96 L437.00,283.59 L437.30,284.22 L437.60,284.86 L437.90,285.49 L438.20,286.12 L438.50,286.76 L438.80,287.39 L439.10,288.02 L439.40,288.66 L439.70,289.29 L440.00,289.92 L440.30,290.56 L440.59,291.19 L440.89,291.83 L441.19,292.46 L441.48,293.10 L441.78,293.74 L442.07,294.37 L442.36,295.01 L442.65,295.65 L442.94,296.29 L443.23,296.93 L443.52,297.57 L443.80,298.21 L444.08,298.85 L444.37,299.49 L444.65,300.13 L444.93,300.77 L445.21,301.42 L445.48,302.06 L445.76,302.70 L446.03,303.35 L446.30,304.00 L446.57,304.64 L446.84,305.29 L447.11,305.94 L447.38,306.58 L447.65,307.23 L447.91,307.88 L448.18,308.53 L448.44,309.18 L448.70,309.83 L448.96,310.48 L449.23,311.13 L449.49,311.78 L449.75,312.43 L450.01,313.08 L450.27,313.73 L450.53,314.38 L450.80,315.03 L451.06,315.68 L451.32,316.33 L451.58,316.98 L451.84,317.63 L452.10,318.28 L452.37,318.93 L452.63,319.58 L452.89,320.23 L453.16,320.88 L453.42,321.53 L453.69,322.18 L453.95,322.83 L454.21,323.48 L454.48,324.13 L454.74,324.78 L455.00,325.43 L455.26,326.08 L455.53,326.73 L455.79,327.38 L456.05,328.03 L456.32,328.68 L456.58,329.33 L456.84,329.98 L457.10,330.62 L457.37,331.27 L457.63,331.92 L457.89,332.57 L458.15,333.22 L458.42,333.87 L458.68,334.52 L458.94,335.17 L459.20,335.82 L459.47,336.47 L459.73,337.12 L459.99,337.77 L460.26,338.42 L460.52,339.07 L460.79,339.72 L461.05,340.37 L461.32,341.02 L461.58,341.67 L461.85,342.32 L462.11,342.96 L462.38,343.61 L462.64,344.26 L462.91,344.91 L463.17,345.56 L463.44,346.21 L463.70,346.86 L463.97,347.50 L464.24,348.15 L464.50,348.80 L464.77,349.45 L465.03,350.10 L465.30,350.75 L465.57,351.40 L465.83,352.04 L466.10,352.69 L466.36,353.34 L466.63,353.99 L466.90,354.64 L467.16,355.29 L467.43,355.93 L467.69,356.58 L467.96,357.23 L468.22,357.88 L468.49,358.53 L468.75,359.18 L469.02,359.83 L469.29,360.48 L469.55,361.12 L469.81,361.77 L470.08,362.42 L470.34,363.07 L470.61,363.72 L470.87,364.37 L471.14,365.02 L471.40,365.67 L471.67,366.32 L471.93,366.97 L472.19,367.62 L472.46,368.26 L472.72,368.91 L472.99,369.56 L473.25,370.21 L473.51,370.86 L473.78,371.51 L474.04,372.16 L474.31,372.81 L474.57,373.46 L474.83,374.11 L475.10,374.76 L475.36,375.41 L475.63,376.06 L475.89,376.71 L476.15,377.35 L476.42,378.00 L476.68,378.65 L476.94,379.30 L477.21,379.95 L477.47,380.60 L477.74,381.25 L478.00,381.90 L505,382.7 L581,383.5"/>
<line x1="478.2" y1="382" x2="478.2" y2="388" stroke="#C65A12" stroke-width="1.2"/>
</g>
</svg>
<div class="wm" style="left:220.5px;top:213px;">中德睿<b>•</b>知行锂电</div>
<div class="wm" style="left:493.5px;top:212.5px;">中德睿<b>•</b>知行锂电</div>
<div class="t" style="left:173px;top:40.3px;font-size:24px;font-weight:bold;color:#2F74BC;-webkit-text-stroke:0.6px #2F74BC;">不同种类正极材料高温下的分解速率</div>
<div class="t num" style="left:82px;top:73px;">400</div>
<div class="t num" style="left:81px;top:151px;">300</div>
<div class="t num" style="left:82px;top:223px;">200</div>
<div class="t num" style="left:82px;top:300px;">100</div>
<div class="t num" style="left:102px;top:368px;font-size:27px;">0</div>
<div class="t num" style="left:114px;top:393px;">100</div>
<div class="t num" style="left:262px;top:393px;">200</div>
<div class="t num" style="left:410.5px;top:393px;">300</div>
<div class="t num" style="left:559px;top:393px;">400</div>
<div class="t" style="left:37px;top:197px;font-size:26px;-webkit-text-stroke:0.3px #000;">速</div>
<div class="t" style="left:37px;top:227px;font-size:26px;-webkit-text-stroke:0.3px #000;">率</div>
<div class="t" style="left:14px;top:255px;font-size:26px;letter-spacing:0.4px;-webkit-text-stroke:0.35px #000;">C/min</div>
<div class="t" style="left:316px;top:424px;font-size:25px;-webkit-text-stroke:0.3px #000;">温度℃</div>
<div class="t" style="left:306px;top:89.5px;font-size:19px;color:#C00000;-webkit-text-stroke:0.25px #C00000;">钴酸锂</div>
<div class="t" style="left:334px;top:153.8px;font-size:19.5px;letter-spacing:-1px;color:#C65A12;-webkit-text-stroke:0.25px #C65A12;">NCA</div>
<div class="t" style="left:344px;top:318px;font-size:19px;letter-spacing:0.8px;color:#97C70E;">111三元</div>
<div class="t" style="left:244px;top:358.7px;font-size:19px;color:#14AD55;-webkit-text-stroke:0.25px #14AD55;">磷酸铁锂</div>
<div class="t" style="left:358px;top:358.5px;font-size:19px;color:#1E70E6;-webkit-text-stroke:0.25px #1E70E6;">锰酸锂</div>
</body></html>
